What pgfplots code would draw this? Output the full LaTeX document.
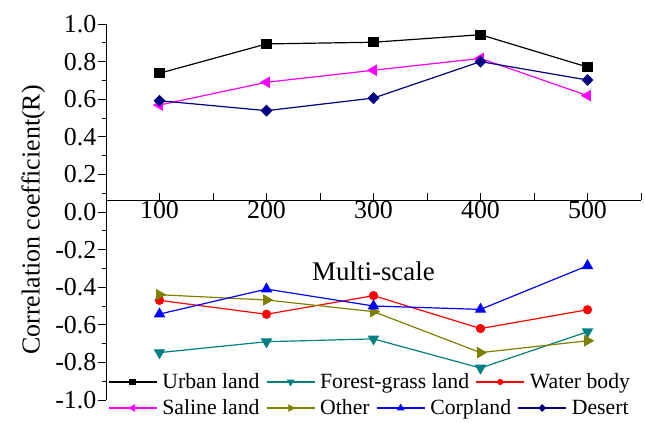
\documentclass[border=0pt]{standalone}
\usepackage{pgfplots}
\pgfplotsset{compat=1.18}
\usepackage{fontspec}
\setmainfont{Liberation Serif}
\definecolor{cteal}{RGB}{0,128,128}
\definecolor{colive}{RGB}{128,128,0}
\definecolor{cnavy}{RGB}{0,0,128}
\definecolor{cmag}{RGB}{255,0,255}
\definecolor{cred}{RGB}{255,0,0}
\definecolor{cblue}{RGB}{0,0,255}
\begin{document}
\begin{tikzpicture}
\pgfplotsset{
  every axis/.append style={scale only axis, width=535bp, height=376bp, xmin=50, xmax=550},
  leg/.style={legend cell align=left,
    legend image code/.code={\draw[mark repeat=2,mark phase=2,/tikz/every mark/.append style={scale=0.6},##1] plot coordinates {(0bp,0bp)(24bp,0bp)(48bp,0bp)};},
    legend style={draw=none, fill=none, inner sep=0pt, anchor=west,
      font=\fontsize{21.8}{24}\selectfont, row sep=0pt,
      nodes={inner sep=1.5bp},
      /tikz/every odd column/.append style={column sep=3.5bp},
      /tikz/every even column/.append style={column sep=5bp}}},
  surban/.style={black, line width=1.2bp, mark=square*, mark size=4.5bp, mark options={solid}},
  sforest/.style={cteal, line width=1.2bp, mark=triangle*, mark size=5.5bp, mark options={solid, rotate=180}},
  swater/.style={cred, line width=1.2bp, mark=*, mark size=4bp, mark options={solid}},
  ssaline/.style={cmag, line width=1.2bp, mark=triangle*, mark size=5.5bp, mark options={solid, rotate=90}},
  sother/.style={colive, line width=1.2bp, mark=triangle*, mark size=5.5bp, mark options={solid, rotate=-90}},
  scorp/.style={cblue, line width=1.2bp, mark=triangle*, mark size=5.5bp, mark options={solid}},
  sdesert/.style={cnavy, line width=1.2bp, mark=square*, mark size=3.6bp, mark options={solid, rotate=45}},
}
\begin{axis}[
  leg,
  legend columns=3,
  legend style={at={(axis description cs:0.0037,0.048)}},
  ymin=-1, ymax=1,
  axis y line*=left, axis x line=none,
  ytick={-1,-0.8,-0.6,-0.4,-0.2,0,0.2,0.4,0.6,0.8,1},
  yticklabels={\textrm{-1.0},\textrm{-0.8},\textrm{-0.6},\textrm{-0.4},\textrm{-0.2},\textrm{0.0},\textrm{0.2},\textrm{0.4},\textrm{0.6},\textrm{0.8},\textrm{1.0}},
  minor ytick={-0.9,-0.7,-0.5,-0.3,-0.1,0.1,0.3,0.5,0.7,0.9},
  tick align=outside,
  major tick length=8bp, minor tick length=4bp,
  tick style={black, line width=0.8bp},
  axis line style={black, line width=0.8bp},
  yticklabel style={font=\fontsize{26}{30}\selectfont, inner sep=1.5bp},
  ylabel={Correlation coefficient(R)},
  ylabel style={font=\fontsize{26}{30}\selectfont, at={(axis description cs:-0.136,0.479)}, anchor=center},
  clip=false,
]
\addplot[surban] coordinates {(100,0.738)(200,0.894)(300,0.903)(400,0.943)(500,0.771)};
\addlegendentry{Urban land}
\addplot[sforest] coordinates {(100,-0.748)(200,-0.690)(300,-0.675)(400,-0.830)(500,-0.637)};
\addlegendentry{Forest-grass land}
\addplot[swater] coordinates {(100,-0.470)(200,-0.544)(300,-0.445)(400,-0.620)(500,-0.520)};
\addlegendentry{Water body}
\addplot[ssaline] coordinates {(100,0.569)(200,0.690)(300,0.754)(400,0.817)(500,0.619)};
\addplot[sother] coordinates {(100,-0.440)(200,-0.468)(300,-0.530)(400,-0.748)(500,-0.685)};
\addplot[scorp] coordinates {(100,-0.543)(200,-0.410)(300,-0.500)(400,-0.518)(500,-0.286)};
\addplot[sdesert] coordinates {(100,0.592)(200,0.539)(300,0.606)(400,0.800)(500,0.702)};
\node[font=\fontsize{27}{30}\selectfont] at (axis cs:300,-0.314) {Multi-scale};
\end{axis}
\begin{axis}[
  leg,
  legend columns=4,
  legend style={at={(axis description cs:0.0037,-0.0213)}},
  ymin=-1.064, ymax=0.936,
  axis x line*=middle, axis y line=none,
  xtick={100,200,300,400,500},
  xticklabels={\textrm{100},\textrm{200},\textrm{300},\textrm{400},\textrm{500}},
  minor xtick={50,150,250,350,450,550},
  xtick align=inside,
  major tick length=7bp, minor tick length=7bp,
  tick style={black, line width=0.8bp},
  axis line style={black, line width=0.8bp},
  xticklabel style={font=\fontsize{26}{30}\selectfont, inner sep=1bp},
  clip=false,
]
\addlegendimage{ssaline}
\addlegendentry{Saline land}
\addlegendimage{sother}
\addlegendentry{Other}
\addlegendimage{scorp}
\addlegendentry{Corpland}
\addlegendimage{sdesert}
\addlegendentry{Desert}
\end{axis}
\pgfresetboundingbox
\path[use as bounding box] (-106bp,-23bp) rectangle (539bp,400bp);
\end{tikzpicture}
\end{document}
